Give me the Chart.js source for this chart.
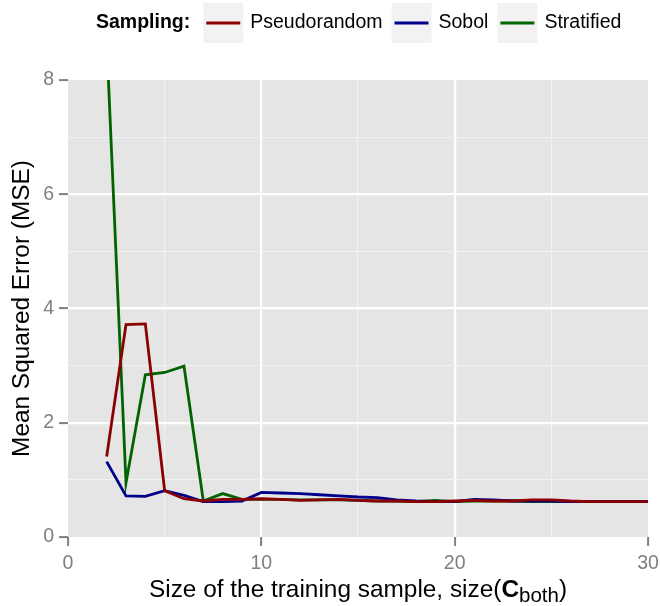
<!DOCTYPE html>
<html>
<head>
<meta charset="utf-8">
<script src="https://cdn.jsdelivr.net/npm/chart.js@4.4.0/dist/chart.umd.min.js"></script>
<style>
  html, body { margin: 0; padding: 0; background: #fff; }
  #wrap { width: 660px; height: 606px; position: relative; }
</style>
</head>
<body>
<div id="wrap"><canvas id="mseChart"></canvas></div>
<script>
const FONT = "'Liberation Sans', Arial, Helvetica, sans-serif";

// training sample sizes
const sizes = [2, 3, 4, 5, 6, 7, 8, 9, 10, 11, 12, 13, 14, 15, 16, 17, 18, 19, 20, 21, 22, 23, 24, 25, 26, 27, 28, 29, 30];

// MSE per sampling method
const pseudorandom = [1.41, 3.72, 3.73, 0.81, 0.67, 0.63, 0.66, 0.66, 0.67, 0.66, 0.64, 0.65, 0.66, 0.64, 0.63, 0.63, 0.62, 0.62, 0.63, 0.64, 0.63, 0.63, 0.65, 0.65, 0.63, 0.62, 0.62, 0.62, 0.62];
const sobol = [1.32, 0.72, 0.71, 0.81, 0.73, 0.62, 0.62, 0.63, 0.78, 0.77, 0.76, 0.74, 0.72, 0.70, 0.69, 0.65, 0.63, 0.62, 0.62, 0.66, 0.65, 0.63, 0.63, 0.63, 0.62, 0.62, 0.62, 0.62, 0.62];
const stratified = [8.7, 0.95, 2.84, 2.88, 2.99, 0.63, 0.76, 0.66, 0.66, 0.66, 0.65, 0.65, 0.65, 0.64, 0.63, 0.63, 0.62, 0.64, 0.62, 0.63, 0.63, 0.63, 0.62, 0.62, 0.62, 0.62, 0.62, 0.62, 0.62];

const seriesNames = ["Pseudorandom", "Sobol", "Stratified"];
const seriesColors = ["#8B0000", "#00008B", "#006400"];
const legendTitle = "Sampling:";
const yTitle = "Mean Squared Error (MSE)";

const toPoints = (vals) => sizes.map((s, i) => ({ x: s, y: vals[i] }));

// grey panel behind the grid
const panelBg = {
	id: "panelBg",
	beforeDraw(chart) {
		const { ctx, chartArea: a } = chart;
		ctx.save();
		ctx.fillStyle = "#E5E5E5";
		ctx.fillRect(a.left, a.top, a.right - a.left, a.bottom - a.top);
		ctx.restore();
	},
};

// horizontal legend with grey key boxes
const samplingLegend = {
	id: "samplingLegend",
	afterDraw(chart) {
		const ctx = chart.ctx;
		const cy = 23;
		let x = 96;
		ctx.save();
		ctx.textBaseline = "middle";
		ctx.textAlign = "left";
		ctx.font = "bold 19.5px " + FONT;
		ctx.fillStyle = "#000";
		ctx.fillText(legendTitle, x, cy);
		x += ctx.measureText(legendTitle).width + 13;
		chart.data.datasets.forEach((ds) => {
			ctx.fillStyle = "#F2F2F2";
			ctx.fillRect(x, 3, 40, 40);
			ctx.strokeStyle = ds.borderColor;
			ctx.lineWidth = 3;
			ctx.beginPath();
			ctx.moveTo(x + 3, cy);
			ctx.lineTo(x + 37, cy);
			ctx.stroke();
			x += 47;
			ctx.font = "19.5px " + FONT;
			ctx.fillStyle = "#000";
			ctx.fillText(ds.label, x, cy);
			x += ctx.measureText(ds.label).width + 9;
		});
		ctx.restore();
	},
};

// x title with bold C and subscript
const xTitle = {
	id: "xTitle",
	afterDraw(chart) {
		const { ctx, chartArea: a } = chart;
		const parts = [
			{ t: "Size of the training sample, size(", f: "24.4px " + FONT, dy: 0 },
			{ t: "C", f: "bold 24.4px " + FONT, dy: 0 },
			{ t: "both", f: "20.5px " + FONT, dy: 4.5 },
			{ t: ")", f: "24.4px " + FONT, dy: 0 },
		];
		ctx.save();
		ctx.textBaseline = "alphabetic";
		ctx.textAlign = "left";
		ctx.fillStyle = "#000";
		let total = 0;
		parts.forEach((p) => {
			ctx.font = p.f;
			p.w = ctx.measureText(p.t).width;
			total += p.w;
		});
		let x = (a.left + a.right) / 2 - total / 2;
		const base = 597;
		parts.forEach((p) => {
			ctx.font = p.f;
			ctx.fillText(p.t, x, base + p.dy);
			x += p.w;
		});
		ctx.restore();
	},
};

const ctx = document.getElementById("mseChart");
const chartData = {
	datasets: [pseudorandom, sobol, stratified].map((vals, i) => ({
		label: seriesNames[i],
		data: toPoints(vals),
		borderColor: seriesColors[i],
		backgroundColor: seriesColors[i],
		borderWidth: 2.8,
		pointRadius: 0,
		tension: 0,
		fill: false,
	})),
};

const config = {
	type: "line",
	data: chartData,
	plugins: [panelBg, samplingLegend, xTitle],
	options: {
		responsive: true,
		maintainAspectRatio: false,
		animation: false,
		layout: { padding: { top: 80, right: 12, bottom: 0, left: 0 } },
		plugins: {
			legend: { display: false },
			tooltip: { enabled: false },
		},
		scales: {
			x: {
				type: "linear",
				min: 0,
				max: 30,
				afterFit: (s) => {
					s.height = 69;
					s.paddingLeft = 0;
					s.paddingRight = 0;
				},
				border: { display: false },
				grid: {
					color: (c) => {
						const v = c.tick.value;
						if (v === 0 || v === 30) return "rgba(0,0,0,0)";
						return v % 10 === 0 ? "#FFFFFF" : "#F2F2F2";
					},
					lineWidth: (c) => (c.tick.value % 10 === 0 ? 2.2 : 1.1),
					tickColor: (c) => (c.tick.value % 10 === 0 ? "#7F7F7F" : "rgba(0,0,0,0)"),
					tickWidth: 2,
					tickLength: 9,
				},
				ticks: {
					stepSize: 5,
					autoSkip: false,
					maxRotation: 0,
					padding: 6,
					color: "#7F7F7F",
					font: { family: FONT, size: 19.5 },
					callback: (v) => (v % 10 === 0 ? v : ""),
				},
			},
			y: {
				min: 0,
				max: 8,
				afterFit: (s) => { s.width = 68; },
				border: { display: false },
				grid: {
					color: (c) => {
						const v = c.tick.value;
						if (v === 0 || v === 8) return "rgba(0,0,0,0)";
						return v % 2 === 0 ? "#FFFFFF" : "#F2F2F2";
					},
					lineWidth: (c) => (c.tick.value % 2 === 0 ? 2.2 : 1.1),
					tickColor: (c) => (c.tick.value % 2 === 0 ? "#7F7F7F" : "rgba(0,0,0,0)"),
					tickWidth: 2,
					tickLength: 9,
				},
				ticks: {
					stepSize: 1,
					autoSkip: false,
					padding: 5,
					color: "#7F7F7F",
					font: { family: FONT, size: 19.5 },
					callback: (v) => (v % 2 === 0 ? v : ""),
				},
				title: {
					display: true,
					text: yTitle,
					color: "#000",
					font: { family: FONT, size: 24.4 },
					padding: { top: 8, bottom: 0 },
				},
			},
		},
	},
};

new Chart(ctx, config);
</script>
</body>
</html>
